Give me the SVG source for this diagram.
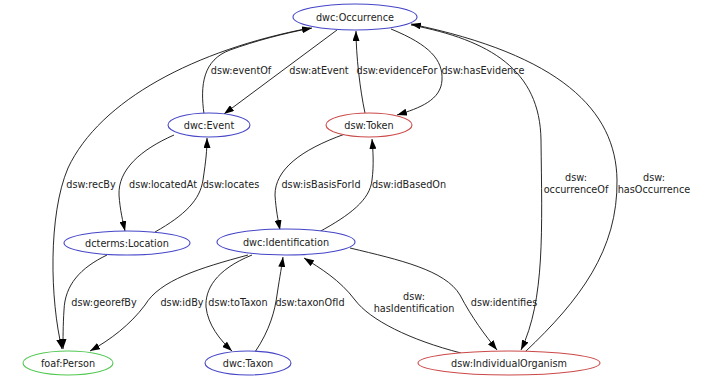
<svg xmlns="http://www.w3.org/2000/svg" width="701" height="377" viewBox="0 0 701 377">
<defs>
<marker id="arr" markerWidth="10" markerHeight="7" refX="10" refY="3.5" orient="auto" markerUnits="userSpaceOnUse"><path d="M0,0 L10,3.5 L0,7 z" fill="#000"/></marker>
<style>
text{font-family:"DejaVu Sans","Liberation Sans",sans-serif;font-size:9.7px;fill:#222;text-anchor:middle}
.e{fill:none;stroke:#111;stroke-width:0.9;marker-end:url(#arr)}
.n{fill:#fff;stroke-width:1.1}
.b{stroke:#4545c8}.r{stroke:#cc4848}.g{stroke:#50c850}
</style>
</defs>
<rect width="701" height="377" fill="#fff"/>
<g id="edges">
<path class="e" d="M337,30 L224,114"/>
<path class="e" d="M204,114 C200,85 203,60 230,50 C255,41 285,33 312,28"/>
<path class="e" d="M310,28 C195,50 100,100 68,168 C48,215 50,300 62,349"/>
<path class="e" d="M174,135 C140,150 118,170 119,195 C120,210 123,222 125,231"/>
<path class="e" d="M155,232 C185,215 200,200 203,180 C206,160 207,150 207,138"/>
<path class="e" d="M391,29 C430,45 443,60 442,80 C441,100 420,108 397,115"/>
<path class="e" d="M365,113 C360,90 356,55 356,31"/>
<path class="e" d="M345,134 C300,150 275,170 275,195 C276,210 278,220 280,230"/>
<path class="e" d="M319,232 C350,215 370,200 372,180 C374,165 373,150 372,139"/>
<path class="e" d="M525,352 C580,300 618,250 617,180 C616,110 560,55 411,24"/>
<path class="e" d="M411,25 C490,40 540,70 541,140 C542,230 545,300 521,350"/>
<path class="e" d="M350,248 C400,260 445,270 460,295 C472,318 485,335 497,350"/>
<path class="e" d="M461,353 C410,340 370,320 355,300 C340,280 320,268 304,258"/>
<path class="e" d="M248,255 C200,268 160,280 145,305 C130,325 110,340 90,351"/>
<path class="e" d="M252,255 C215,270 205,290 206,307 C208,325 220,340 232,351"/>
<path class="e" d="M255,352 C270,330 275,310 277,295 C280,275 282,265 283,257"/>
<path class="e" d="M107,255 C80,268 65,285 64,310 C63,325 63,340 63,349"/>
<text x="241" y="74">dsw:eventOf</text>
<text x="319" y="74">dsw:atEvent</text>
<text x="397" y="74">dsw:evidenceFor</text>
<text x="483" y="74">dsw:hasEvidence</text>
<text x="91" y="188">dsw:recBy</text>
<text x="163" y="188">dsw:locatedAt</text>
<text x="231" y="188">dsw:locates</text>
<text x="321" y="188">dsw:isBasisForId</text>
<text x="409" y="188">dsw:idBasedOn</text>
<text x="576" y="181">dsw:</text>
<text x="576" y="193">occurrenceOf</text>
<text x="654" y="181">dsw:</text>
<text x="654" y="193">hasOccurrence</text>
<text x="104" y="306">dsw:georefBy</text>
<text x="182" y="306">dsw:idBy</text>
<text x="238" y="306">dsw:toTaxon</text>
<text x="310" y="306">dsw:taxonOfId</text>
<text x="414" y="300">dsw:</text>
<text x="414" y="312">hasIdentification</text>
<text x="504" y="306">dsw:identifies</text>
</g>
<g id="occurrence"><ellipse class="n b" cx="355" cy="17" rx="62" ry="13"/><text x="355" y="20.5">dwc:Occurrence</text></g>
<g id="event"><ellipse class="n b" cx="209" cy="125" rx="41" ry="12"/><text x="209" y="128.5">dwc:Event</text></g>
<g id="token"><ellipse class="n r" cx="369" cy="125" rx="43" ry="12"/><text x="369" y="128.5">dsw:Token</text></g>
<g id="location"><ellipse class="n b" cx="127" cy="243" rx="63" ry="12"/><text x="127" y="246.5">dcterms:Location</text></g>
<g id="identification"><ellipse class="n b" cx="286" cy="242" rx="69" ry="13"/><text x="286" y="245.5">dwc:Identification</text></g>
<g id="person"><ellipse class="n g" cx="68" cy="363" rx="45" ry="12"/><text x="68" y="366.5">foaf:Person</text></g>
<g id="taxon"><ellipse class="n b" cx="248" cy="363" rx="43" ry="12"/><text x="248" y="366.5">dwc:Taxon</text></g>
<g id="organism"><ellipse class="n r" cx="509" cy="363" rx="91" ry="12"/><text x="509" y="366.5">dsw:IndividualOrganism</text></g>
</svg>
